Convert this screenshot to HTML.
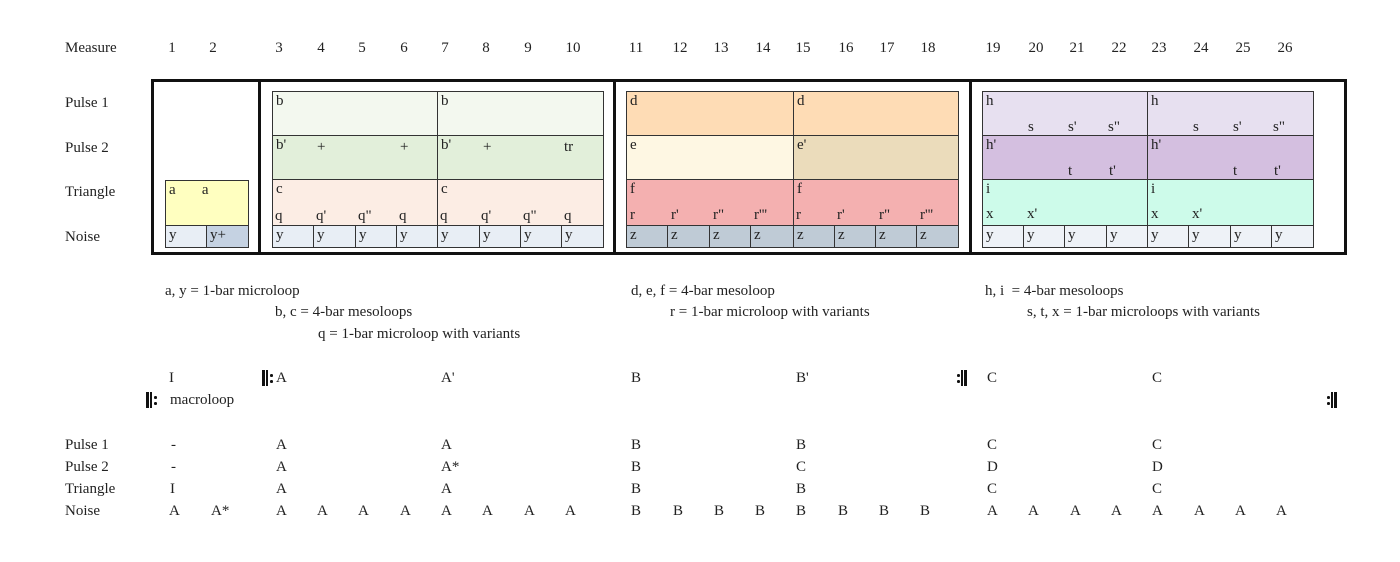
<!DOCTYPE html>
<html><head><meta charset="utf-8"><style>
body{margin:0;width:1400px;height:562px;background:#fff;position:relative;overflow:hidden;font-family:"Liberation Serif",serif;font-size:15px;color:#222}
.t{position:absolute;white-space:pre;line-height:18px}
.c{position:absolute;width:30px;text-align:center;line-height:18px}
.s{position:absolute;white-space:pre;line-height:18px;font-size:15px}
.b{position:absolute;box-sizing:border-box;border:1.5px solid #333}
.cl{position:absolute;box-sizing:border-box;border:1.5px solid #333;font-size:15px;line-height:17px;padding:1px 3px;white-space:pre}
.thick{position:absolute;background:#111}
.rs{position:absolute;height:16px;width:12px}
.rs i{position:absolute;top:0;height:16px;background:#111}
.rs b{position:absolute;width:2.5px;height:2.5px;background:#111;border-radius:50%}
</style></head><body>
<div class="t" style="left:65px;top:39px">Measure</div>
<div class="c" style="left:157px;top:39px">1</div><div class="c" style="left:198px;top:39px">2</div>
<div class="c" style="left:264px;top:39px">3</div><div class="c" style="left:306px;top:39px">4</div><div class="c" style="left:347px;top:39px">5</div><div class="c" style="left:389px;top:39px">6</div><div class="c" style="left:430px;top:39px">7</div><div class="c" style="left:471px;top:39px">8</div><div class="c" style="left:513px;top:39px">9</div><div class="c" style="left:558px;top:39px">10</div>
<div class="c" style="left:621px;top:39px">11</div><div class="c" style="left:665px;top:39px">12</div><div class="c" style="left:706px;top:39px">13</div><div class="c" style="left:748px;top:39px">14</div><div class="c" style="left:788px;top:39px">15</div><div class="c" style="left:831px;top:39px">16</div><div class="c" style="left:872px;top:39px">17</div><div class="c" style="left:913px;top:39px">18</div>
<div class="c" style="left:978px;top:39px">19</div><div class="c" style="left:1021px;top:39px">20</div><div class="c" style="left:1062px;top:39px">21</div><div class="c" style="left:1104px;top:39px">22</div><div class="c" style="left:1144px;top:39px">23</div><div class="c" style="left:1186px;top:39px">24</div><div class="c" style="left:1228px;top:39px">25</div><div class="c" style="left:1270px;top:39px">26</div>

<div class="t" style="left:65px;top:94px">Pulse 1</div>
<div class="t" style="left:65px;top:139px">Pulse 2</div>
<div class="t" style="left:65px;top:183px">Triangle</div>
<div class="t" style="left:65px;top:228px">Noise</div>

<!-- outer frame -->
<div class="b" style="left:151px;top:79px;width:1196px;height:176px;border:3px solid #111"></div>
<div class="thick" style="left:258px;top:79px;width:3px;height:176px"></div>
<div class="thick" style="left:613px;top:79px;width:3px;height:176px"></div>
<div class="thick" style="left:969px;top:79px;width:3px;height:176px"></div>

<!-- section 1 -->
<div class="cl" style="left:165px;top:180px;width:84px;height:46px;background:#ffffc0">a       a</div>
<div class="cl" style="left:165px;top:225px;width:42px;height:23px;background:#e8eef5">y</div>
<div class="cl" style="left:206px;top:225px;width:43px;height:23px;background:#c5d2e2">y+</div>

<!-- section 2 -->
<div class="cl" style="left:272px;top:91px;width:166px;height:45px;background:#f3f8ef">b</div>
<div class="cl" style="left:437px;top:91px;width:167px;height:45px;background:#f3f8ef">b</div>
<div class="cl" style="left:272px;top:135px;width:166px;height:45px;background:#e2efda">b'</div>
<div class="cl" style="left:437px;top:135px;width:167px;height:45px;background:#e2efda">b'</div>
<div class="cl" style="left:272px;top:179px;width:166px;height:47px;background:#fcede4">c</div>
<div class="cl" style="left:437px;top:179px;width:167px;height:47px;background:#fcede4">c</div>
<div class="s" style="left:317px;top:138px">+</div><div class="s" style="left:400px;top:138px">+</div>
<div class="s" style="left:483px;top:138px">+</div><div class="s" style="left:564px;top:138px">tr</div>
<div class="s" style="left:275px;top:207px">q</div><div class="s" style="left:316px;top:207px">q'</div><div class="s" style="left:358px;top:207px">q"</div><div class="s" style="left:399px;top:207px">q</div>
<div class="s" style="left:440px;top:207px">q</div><div class="s" style="left:481px;top:207px">q'</div><div class="s" style="left:523px;top:207px">q"</div><div class="s" style="left:564px;top:207px">q</div>
<div class="cl" style="left:272px;top:225px;width:42px;height:23px;background:#e8eef5">y</div>
<div class="cl" style="left:313px;top:225px;width:43px;height:23px;background:#e8eef5">y</div>
<div class="cl" style="left:355px;top:225px;width:42px;height:23px;background:#e8eef5">y</div>
<div class="cl" style="left:396px;top:225px;width:42px;height:23px;background:#e8eef5">y</div>
<div class="cl" style="left:437px;top:225px;width:43px;height:23px;background:#e8eef5">y</div>
<div class="cl" style="left:479px;top:225px;width:42px;height:23px;background:#e8eef5">y</div>
<div class="cl" style="left:520px;top:225px;width:42px;height:23px;background:#e8eef5">y</div>
<div class="cl" style="left:561px;top:225px;width:43px;height:23px;background:#e8eef5">y</div>

<!-- section 3 -->
<div class="cl" style="left:626px;top:91px;width:168px;height:45px;background:#fedcb5">d</div>
<div class="cl" style="left:793px;top:91px;width:166px;height:45px;background:#fedcb5">d</div>
<div class="cl" style="left:626px;top:135px;width:168px;height:45px;background:#fef7e3">e</div>
<div class="cl" style="left:793px;top:135px;width:166px;height:45px;background:#ebdcbb">e'</div>
<div class="cl" style="left:626px;top:179px;width:168px;height:47px;background:#f4b0b0">f</div>
<div class="cl" style="left:793px;top:179px;width:166px;height:47px;background:#f4b0b0">f</div>
<div class="s" style="left:630px;top:206px">r</div><div class="s" style="left:671px;top:206px">r'</div><div class="s" style="left:713px;top:206px">r"</div><div class="s" style="left:754px;top:206px">r'''</div>
<div class="s" style="left:796px;top:206px">r</div><div class="s" style="left:837px;top:206px">r'</div><div class="s" style="left:879px;top:206px">r"</div><div class="s" style="left:920px;top:206px">r'''</div>
<div class="cl" style="left:626px;top:225px;width:42px;height:23px;background:#bfcbd6">z</div>
<div class="cl" style="left:667px;top:225px;width:43px;height:23px;background:#bfcbd6">z</div>
<div class="cl" style="left:709px;top:225px;width:42px;height:23px;background:#bfcbd6">z</div>
<div class="cl" style="left:750px;top:225px;width:44px;height:23px;background:#bfcbd6">z</div>
<div class="cl" style="left:793px;top:225px;width:42px;height:23px;background:#bfcbd6">z</div>
<div class="cl" style="left:834px;top:225px;width:42px;height:23px;background:#bfcbd6">z</div>
<div class="cl" style="left:875px;top:225px;width:42px;height:23px;background:#bfcbd6">z</div>
<div class="cl" style="left:916px;top:225px;width:43px;height:23px;background:#bfcbd6">z</div>

<!-- section 4 -->
<div class="cl" style="left:982px;top:91px;width:166px;height:45px;background:#e7e0f0">h</div>
<div class="cl" style="left:1147px;top:91px;width:167px;height:45px;background:#e7e0f0">h</div>
<div class="cl" style="left:982px;top:135px;width:166px;height:45px;background:#d4bfe0">h'</div>
<div class="cl" style="left:1147px;top:135px;width:167px;height:45px;background:#d4bfe0">h'</div>
<div class="cl" style="left:982px;top:179px;width:166px;height:47px;background:#cdfbea">i</div>
<div class="cl" style="left:1147px;top:179px;width:167px;height:47px;background:#cdfbea">i</div>
<div class="s" style="left:1028px;top:118px">s</div><div class="s" style="left:1068px;top:118px">s'</div><div class="s" style="left:1108px;top:118px">s"</div>
<div class="s" style="left:1193px;top:118px">s</div><div class="s" style="left:1233px;top:118px">s'</div><div class="s" style="left:1273px;top:118px">s"</div>
<div class="s" style="left:1068px;top:162px">t</div><div class="s" style="left:1109px;top:162px">t'</div>
<div class="s" style="left:1233px;top:162px">t</div><div class="s" style="left:1274px;top:162px">t'</div>
<div class="s" style="left:986px;top:205px">x</div><div class="s" style="left:1027px;top:205px">x'</div>
<div class="s" style="left:1151px;top:205px">x</div><div class="s" style="left:1192px;top:205px">x'</div>
<div class="cl" style="left:982px;top:225px;width:42px;height:23px;background:#eef2f7">y</div>
<div class="cl" style="left:1023px;top:225px;width:42px;height:23px;background:#eef2f7">y</div>
<div class="cl" style="left:1064px;top:225px;width:43px;height:23px;background:#eef2f7">y</div>
<div class="cl" style="left:1106px;top:225px;width:42px;height:23px;background:#eef2f7">y</div>
<div class="cl" style="left:1147px;top:225px;width:42px;height:23px;background:#eef2f7">y</div>
<div class="cl" style="left:1188px;top:225px;width:43px;height:23px;background:#eef2f7">y</div>
<div class="cl" style="left:1230px;top:225px;width:42px;height:23px;background:#eef2f7">y</div>
<div class="cl" style="left:1271px;top:225px;width:43px;height:23px;background:#eef2f7">y</div>

<!-- legends -->
<div class="t" style="left:165px;top:282px">a, y = 1-bar microloop</div>
<div class="t" style="left:275px;top:303px">b, c = 4-bar mesoloops</div>
<div class="t" style="left:318px;top:325px">q = 1-bar microloop with variants</div>
<div class="t" style="left:631px;top:282px">d, e, f = 4-bar mesoloop</div>
<div class="t" style="left:670px;top:303px">r = 1-bar microloop with variants</div>
<div class="t" style="left:985px;top:282px">h, i  = 4-bar mesoloops</div>
<div class="t" style="left:1027px;top:303px">s, t, x = 1-bar microloops with variants</div>

<!-- macro -->
<div class="t" style="left:169px;top:369px">I</div>
<div class="rs" style="left:262px;top:370px"><i style="left:0;width:3px"></i><i style="left:4px;width:1.5px"></i><b style="left:8px;top:4px"></b><b style="left:8px;top:10px"></b></div>
<div class="t" style="left:276px;top:369px">A</div>
<div class="t" style="left:441px;top:369px">A'</div>
<div class="t" style="left:631px;top:369px">B</div>
<div class="t" style="left:796px;top:369px">B'</div>
<div class="rs" style="left:957px;top:370px"><b style="left:0;top:4px"></b><b style="left:0;top:10px"></b><i style="left:4px;width:1.5px"></i><i style="left:7px;width:3px"></i></div>
<div class="t" style="left:987px;top:369px">C</div>
<div class="t" style="left:1152px;top:369px">C</div>
<div class="rs" style="left:146px;top:392px"><i style="left:0;width:3px"></i><i style="left:4px;width:1.5px"></i><b style="left:8px;top:4px"></b><b style="left:8px;top:10px"></b></div>
<div class="t" style="left:170px;top:391px">macroloop</div>
<div class="rs" style="left:1327px;top:392px"><b style="left:0;top:4px"></b><b style="left:0;top:10px"></b><i style="left:4px;width:1.5px"></i><i style="left:7px;width:3px"></i></div>

<!-- table -->
<div class="t" style="left:65px;top:436px">Pulse 1</div>
<div class="t" style="left:65px;top:458px">Pulse 2</div>
<div class="t" style="left:65px;top:480px">Triangle</div>
<div class="t" style="left:65px;top:502px">Noise</div>

<div class="t" style="left:171px;top:436px">-</div><div class="t" style="left:276px;top:436px">A</div><div class="t" style="left:441px;top:436px">A</div><div class="t" style="left:631px;top:436px">B</div><div class="t" style="left:796px;top:436px">B</div><div class="t" style="left:987px;top:436px">C</div><div class="t" style="left:1152px;top:436px">C</div>
<div class="t" style="left:171px;top:458px">-</div><div class="t" style="left:276px;top:458px">A</div><div class="t" style="left:441px;top:458px">A*</div><div class="t" style="left:631px;top:458px">B</div><div class="t" style="left:796px;top:458px">C</div><div class="t" style="left:987px;top:458px">D</div><div class="t" style="left:1152px;top:458px">D</div>
<div class="t" style="left:170px;top:480px">I</div><div class="t" style="left:276px;top:480px">A</div><div class="t" style="left:441px;top:480px">A</div><div class="t" style="left:631px;top:480px">B</div><div class="t" style="left:796px;top:480px">B</div><div class="t" style="left:987px;top:480px">C</div><div class="t" style="left:1152px;top:480px">C</div>

<div class="t" style="left:169px;top:502px">A</div><div class="t" style="left:211px;top:502px">A*</div>
<div class="t" style="left:276px;top:502px">A</div><div class="t" style="left:317px;top:502px">A</div><div class="t" style="left:358px;top:502px">A</div><div class="t" style="left:400px;top:502px">A</div><div class="t" style="left:441px;top:502px">A</div><div class="t" style="left:482px;top:502px">A</div><div class="t" style="left:524px;top:502px">A</div><div class="t" style="left:565px;top:502px">A</div>
<div class="t" style="left:631px;top:502px">B</div><div class="t" style="left:673px;top:502px">B</div><div class="t" style="left:714px;top:502px">B</div><div class="t" style="left:755px;top:502px">B</div><div class="t" style="left:796px;top:502px">B</div><div class="t" style="left:838px;top:502px">B</div><div class="t" style="left:879px;top:502px">B</div><div class="t" style="left:920px;top:502px">B</div>
<div class="t" style="left:987px;top:502px">A</div><div class="t" style="left:1028px;top:502px">A</div><div class="t" style="left:1070px;top:502px">A</div><div class="t" style="left:1111px;top:502px">A</div><div class="t" style="left:1152px;top:502px">A</div><div class="t" style="left:1194px;top:502px">A</div><div class="t" style="left:1235px;top:502px">A</div><div class="t" style="left:1276px;top:502px">A</div>
</body></html>
